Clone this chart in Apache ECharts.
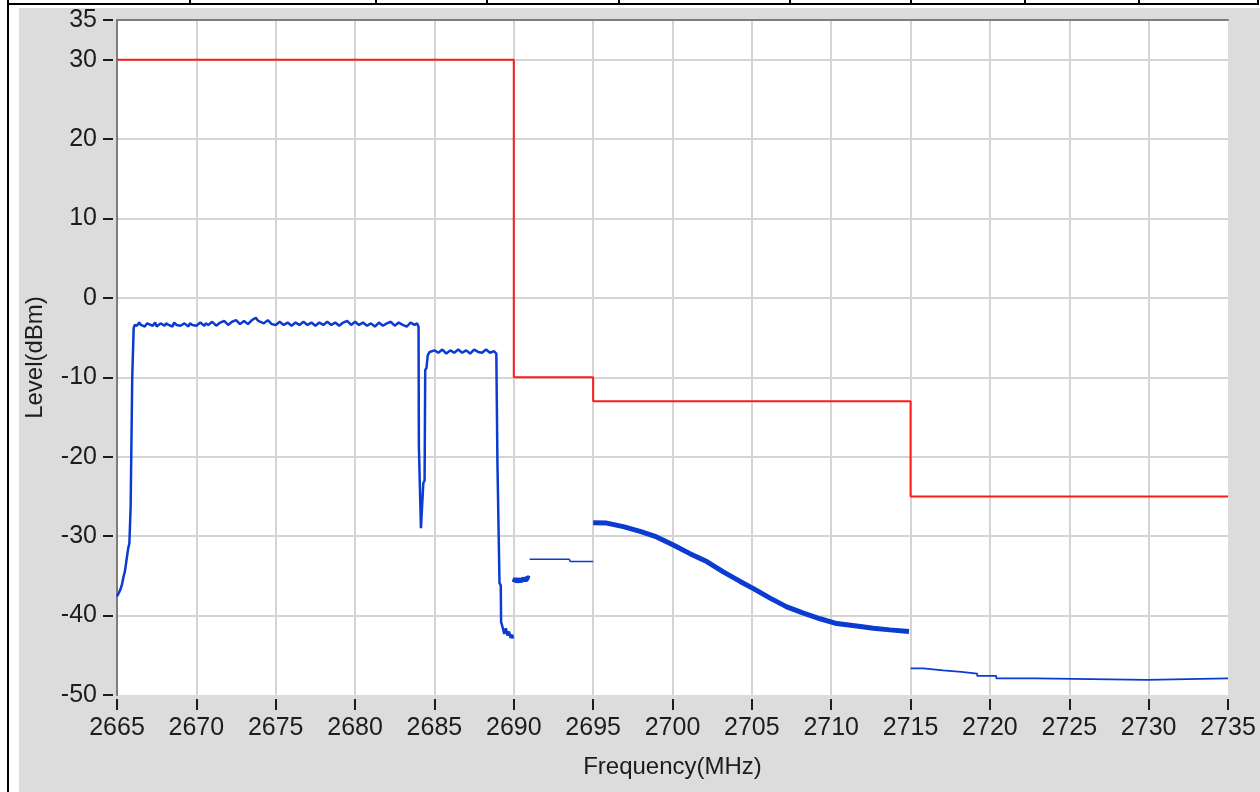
<!DOCTYPE html>
<html lang="en">
<head>
  <meta charset="UTF-8">
  <title>spectrum-mask</title>
  <script src="https://cdn.jsdelivr.net/npm/echarts@6/dist/echarts.min.js"></script>
  <style>
    html, body {
      margin: 0;
      padding: 0;
      background: #fff;
    }

    #chart-main {
      width: 1260px;
      height: 792px;
    }
  </style>
</head>
<body>
<div id="chart-main"></div>

<script type="text/javascript">
  // tick labels
  const xTicks = [2665, 2670, 2675, 2680, 2685, 2690, 2695, 2700, 2705, 2710, 2715, 2720, 2725, 2730, 2735]
  const yTicks = [35, 30, 20, 10, 0, -10, -20, -30, -40, -50]

  // emission mask (red), [MHz, dBm]
  const maskLine = [
    [2665, 30], [2690, 30], [2690, -10], [2695, -10],
    [2695, -13], [2715, -13], [2715, -25], [2735, -25]
  ]

  // measured trace, cut into the pieces the analyzer drew separately
  // carrier block + notch + second carrier
  const traceCarrier = [
    [2665.0, -37.6], [2665.1, -37.4], [2665.2, -36.8], [2665.3, -36.2], [2665.4, -35.2],
    [2665.5, -34.4], [2665.6, -33.0], [2665.7, -31.6], [2665.78, -30.9], [2665.86, -26.3],
    [2665.96, -10.0], [2666.05, -3.8], [2666.12, -3.4],
    [2666.25, -3.5], [2666.4, -3.1], [2666.5, -3.4], [2666.75, -3.6], [2666.9, -3.2], [2667.0, -3.3],
    [2667.25, -3.5], [2667.4, -3.1], [2667.5, -3.6], [2667.75, -3.2], [2668.0, -3.5], [2668.1, -3.2],
    [2668.25, -3.4], [2668.5, -3.6], [2668.6, -3.1], [2668.75, -3.4], [2669.0, -3.5],
    [2669.25, -3.2], [2669.5, -3.6], [2669.6, -3.2], [2669.75, -3.4], [2670.0, -3.5],
    [2670.25, -3.1], [2670.5, -3.5], [2670.6, -3.2], [2670.75, -3.4], [2671.0, -3.0],
    [2671.25, -3.5], [2671.5, -3.1], [2671.75, -2.9], [2672.0, -3.4], [2672.25, -3.0],
    [2672.5, -2.8], [2672.75, -3.3], [2673.0, -2.9], [2673.25, -3.3], [2673.5, -2.8],
    [2673.75, -2.5], [2673.9, -2.9], [2674.0, -2.7], [2674.25, -3.2], [2674.5, -2.8], [2674.75, -3.3],
    [2675.0, -3.4], [2675.25, -3.0], [2675.5, -3.4], [2675.75, -3.1], [2676.0, -3.5],
    [2676.25, -3.1], [2676.5, -3.4], [2676.75, -3.0], [2677.0, -3.4], [2677.25, -3.1],
    [2677.5, -3.5], [2677.75, -3.1], [2678.0, -3.4], [2678.25, -3.0], [2678.5, -3.4],
    [2678.75, -3.1], [2679.0, -3.5], [2679.25, -3.1], [2679.5, -2.9], [2679.75, -3.4],
    [2680.0, -3.0], [2680.25, -3.4], [2680.5, -3.1], [2680.75, -3.5], [2681.0, -3.2],
    [2681.25, -3.6], [2681.5, -3.1], [2681.75, -3.5], [2682.0, -3.2], [2682.25, -3.0],
    [2682.5, -3.5], [2682.75, -3.1], [2683.0, -3.4], [2683.25, -3.6], [2683.5, -3.1],
    [2683.75, -3.4], [2683.9, -3.2], [2684.0, -3.6],
    [2684.02, -18.7], [2684.12, -18.9], [2684.15, -29.0], [2684.25, -29.2], [2684.3, -23.3],
    [2684.38, -23.0], [2684.42, -9.1], [2684.5, -8.8], [2684.58, -7.2], [2684.7, -6.8],
    [2684.75, -7.0], [2685.0, -6.6], [2685.25, -6.9], [2685.5, -6.5], [2685.75, -7.0],
    [2686.0, -6.6], [2686.25, -6.9], [2686.5, -6.5], [2686.75, -6.9], [2687.0, -6.6],
    [2687.25, -7.0], [2687.5, -6.5], [2687.75, -6.8], [2688.0, -6.9], [2688.25, -6.5],
    [2688.5, -6.9], [2688.75, -6.7], [2688.9, -7.0],
    [2688.97, -20.8], [2689.08, -21.0], [2689.1, -35.9], [2689.18, -36.2], [2689.2, -40.8],
    [2689.3, -41.5], [2689.4, -42.3], [2689.5, -41.6], [2689.6, -42.5], [2689.7, -42.0],
    [2689.8, -42.8], [2689.9, -42.4], [2689.95, -42.9]
  ]
  const traceGapLow = [
    [2690.0, -35.8], [2690.1, -35.3], [2690.2, -35.8], [2690.3, -35.4], [2690.45, -35.7],
    [2690.6, -35.3], [2690.75, -35.6], [2690.85, -35.2], [2691.0, -35.3]
  ]
  const traceGapHigh = [
    [2691.0, -32.9], [2693.5, -32.9], [2693.55, -33.2], [2695.0, -33.2]
  ]
  const traceSlope = [
    [2695.0, -28.3], [2695.86, -28.35], [2696.9, -28.8], [2697.96, -29.4], [2699.0, -30.1],
    [2700.05, -31.1], [2701.1, -32.2], [2702.16, -33.2], [2703.2, -34.5], [2704.26, -35.7],
    [2705.1, -36.6], [2706.15, -37.8], [2707.2, -38.9], [2708.25, -39.7], [2709.3, -40.4],
    [2710.35, -41.0], [2711.6, -41.3], [2712.66, -41.6], [2713.7, -41.8], [2714.9, -42.0]
  ]
  const traceTail = [
    [2715.0, -46.65], [2715.8, -46.65], [2715.8, -46.9], [2717.05, -46.9], [2717.05, -47.1],
    [2718.2, -47.1], [2718.2, -47.3], [2719.2, -47.3], [2719.2, -47.6], [2720.4, -47.6],
    [2720.4, -47.9], [2722.9, -47.9], [2722.9, -48.1], [2729.9, -48.1], [2729.9, -47.9],
    [2735.0, -47.9]
  ]

  const FONT = 'Liberation Sans'
  const TEXT = '#1c1c1c'
  const BLUE = '#0b3bd1'
  const GRID_LINE = {color: '#d4d4d4', width: 2}

  let echartItem = echarts.init(document.getElementById('chart-main'))

  function traceSeries (data, width) {
    return {
      type: 'line',
      data: data,
      showSymbol: false,
      symbol: 'none',
      silent: true,
      lineStyle: {color: BLUE, width: width}
    }
  }

  // frame of the window around the plot
  let frame = [
    {type: 'rect', shape: {x: 19, y: 8, width: 1241, height: 784}, style: {fill: '#dcdcdc'}},
    {type: 'line', shape: {x1: 8, y1: 0, x2: 8, y2: 792}, style: {stroke: '#000', lineWidth: 2}},
    {type: 'line', shape: {x1: 7, y1: 4, x2: 1259, y2: 4}, style: {stroke: '#000', lineWidth: 2}}
  ]
  ;[190, 376, 487, 619, 790, 911, 1025, 1139, 1258].forEach(function (x) {
    frame.push({type: 'line', shape: {x1: x, y1: 0, x2: x, y2: 4}, style: {stroke: '#000', lineWidth: 2}})
  })
  frame.forEach(function (g) { g.z = -10; g.silent = true })

  let option = {
    animation: false,
    backgroundColor: '#fff',
    textStyle: {fontFamily: FONT},
    graphic: frame,
    grid: {
      left: 117,
      right: 32,
      top: 20,
      bottom: 97,
      show: true,
      backgroundColor: '#fff',
      borderWidth: 0
    },
    xAxis: [
      {
        // data axis + vertical grid
        type: 'value',
        min: 2665,
        max: 2735,
        interval: 5,
        position: 'bottom',
        axisLine: {show: false, onZero: false},
        axisTick: {show: false},
        axisLabel: {show: false},
        splitLine: {show: true, showMinLine: false, showMaxLine: false, lineStyle: GRID_LINE}
      },
      {
        // ticks and labels, pushed a little away from the plot
        type: 'value',
        min: 2665,
        max: 2735,
        position: 'bottom',
        offset: 4,
        axisLine: {show: false, onZero: false},
        axisTick: {show: true, length: 11, customValues: xTicks, lineStyle: {color: TEXT, width: 2}},
        axisLabel: {
          customValues: xTicks,
          margin: 17,
          fontSize: 25,
          color: TEXT,
          fontFamily: FONT,
          formatter: function (v) { return String(v) }
        },
        splitLine: {show: false},
        name: 'Frequency(MHz)',
        nameLocation: 'middle',
        nameGap: 56,
        nameTextStyle: {fontSize: 24, color: TEXT, fontFamily: FONT}
      },
      {
        // top border of the plot
        type: 'value',
        min: 2665,
        max: 2735,
        position: 'top',
        axisLine: {show: true, onZero: false, lineStyle: {color: '#7d7d7d', width: 2}},
        axisTick: {show: false},
        axisLabel: {show: false},
        splitLine: {show: false}
      }
    ],
    yAxis: [
      {
        type: 'value',
        min: -50,
        max: 35,
        interval: 10,
        position: 'left',
        axisLine: {show: true, onZero: false, lineStyle: {color: '#7d7d7d', width: 2}},
        axisTick: {show: false},
        axisLabel: {show: false},
        splitLine: {show: true, showMinLine: false, showMaxLine: false, lineStyle: GRID_LINE}
      },
      {
        type: 'value',
        min: -50,
        max: 35,
        position: 'left',
        offset: 4,
        axisLine: {show: false, onZero: false},
        axisTick: {show: true, length: 10, customValues: yTicks, lineStyle: {color: TEXT, width: 2}},
        axisLabel: {customValues: yTicks, margin: 16, fontSize: 25, color: TEXT, fontFamily: FONT},
        splitLine: {show: false},
        name: 'Level(dBm)',
        nameLocation: 'middle',
        nameGap: 66,
        nameTextStyle: {fontSize: 24, color: TEXT, fontFamily: FONT}
      }
    ],
    series: [
      traceSeries(traceCarrier, 2.5),
      traceSeries(traceGapLow, 4.5),
      traceSeries(traceGapHigh, 1.5),
      traceSeries(traceSlope, 5),
      traceSeries(traceTail, 1.8),
      {
        type: 'line',
        data: maskLine,
        showSymbol: false,
        symbol: 'none',
        silent: true,
        lineStyle: {color: '#ff1a1a', width: 2}
      }
    ]
  }

  echartItem.setOption(option)
</script>
</body>
</html>
